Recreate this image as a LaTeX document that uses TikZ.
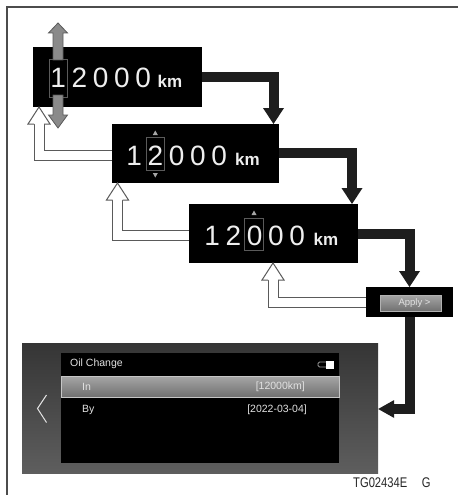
\documentclass[tikz,border=0pt]{standalone}
\usepackage{fontspec}
\setmainfont{Liberation Sans}
\usetikzlibrary{calc}
\definecolor{blk}{HTML}{1E1E1E}
\definecolor{digitc}{HTML}{EEEEEE}
\definecolor{framec}{HTML}{5A5A5A}
\definecolor{hollowc}{HTML}{5A5A5A}
\definecolor{updown}{HTML}{8A8A8A}
\definecolor{scrtop}{HTML}{353535}
\definecolor{scrbot}{HTML}{5E5E5E}
\definecolor{rowtop}{HTML}{A6A6A6}
\definecolor{rowbot}{HTML}{707070}
\definecolor{uitext}{HTML}{E2E2E2}
\newcommand\dg[1]{\makebox[21.25pt]{#1}}
\newcommand\hollowup[2]{%
  \draw[hollowout] #1 -| ($#2+(0,17)$);
  \draw[hollowin] #1 -| ($#2+(0,17)$);
  \fill[white] #2 -- ++(-11,17) -- ++(22,0) -- cycle;
  \draw[hollowedge] ($#2+(-5,17)$) -- ++(-6,0) -- #2 -- ++(11,17) -- ++(-6,0);}
\begin{document}
\begin{tikzpicture}[x=1pt,y=-1pt,
  scrbox/.style={fill=black, draw=none, inner sep=0, outer sep=0},
  digits/.style={text=digitc, font=\fontsize{28}{28}\selectfont, inner sep=0, anchor=base west},
  kmtxt/.style={text=digitc, font=\bfseries\fontsize{17}{17}\selectfont, inner sep=0, anchor=base},
  selframe/.style={draw=framec, line width=1pt, inner sep=0, fill=none},
  blkline/.style={draw=blk, line width=10pt, line join=miter},
  blkhead/.style={fill=blk},
  hollowout/.style={draw=hollowc, line width=11pt, line join=miter},
  hollowin/.style={draw=white, line width=9pt, line join=miter},
  hollowedge/.style={draw=hollowc, line width=1pt, line join=miter},
  graya/.style={fill=updown, draw=framec, line width=0.8pt, line join=miter},
  tri/.style={fill=gray!70},
  uilabel/.style={text=uitext, font=\fontsize{10.5}{11}\selectfont, inner sep=0},
  frameline/.style={draw=black!70, line width=1.1pt}]
\useasboundingbox (0,0) rectangle (458,495);
\fill[white] (0,0) rectangle (458,495);
\draw[frameline] (7,495) -- (7,7) -- (458,7);

% boxes
\node[scrbox, minimum width=169pt, minimum height=60pt] (b1) at (117.5,77) {};
\node[scrbox, minimum width=167pt, minimum height=59pt] (b2) at (195.5,153.5) {};
\node[scrbox, minimum width=169pt, minimum height=59pt] (b3) at (273.5,233.5) {};
\node[scrbox, minimum width=87pt, minimum height=30pt] (ap) at (409.5,302) {};
\node[inner sep=0, minimum width=356pt, minimum height=130pt, top color=scrtop, bottom color=scrbot] (scr) at (200,408) {};
\node[scrbox, minimum width=278pt, minimum height=110pt] (pnl) at (200,408) {};

% digits box 1
\node[selframe, minimum width=18pt, minimum height=37pt] (f1) at (58,78.5) {};
\node[digits] (d1) at (47.4,88) {\dg{1}\dg{2}\dg{0}\dg{0}\dg{0}};
\node[kmtxt] (k1) at (170,88) {km};
\draw[graya] (53,60) -- (53,33) -- (48.5,33) -- (58,23) -- (67.5,33) -- (63,33) -- (63,60) -- cycle;
\draw[graya] (53,95) -- (53,115) -- (48.5,115) -- (58,128) -- (67.5,115) -- (63,115) -- (63,95) -- cycle;

% digits box 2
\node[selframe, minimum width=18pt, minimum height=33pt] (f2) at (155.3,153.5) {};
\node[digits] (d2) at (123.4,165) {\dg{1}\dg{2}\dg{0}\dg{0}\dg{0}};
\node[kmtxt] (k2) at (247.5,165) {km};
\fill[tri] (152.8,135) -- (155.3,130.5) -- (157.8,135) -- cycle;
\fill[tri] (152.8,173) -- (155.3,177.5) -- (157.8,173) -- cycle;

% digits box 3
\node[selframe, minimum width=19pt, minimum height=32pt] (f3) at (254,234) {};
\node[digits] (d3) at (201.4,245) {\dg{1}\dg{2}\dg{0}\dg{0}\dg{0}};
\node[kmtxt] (k3) at (326,245) {km};
\fill[tri] (251.5,215) -- (254,210.5) -- (256.5,215) -- cycle;

% apply button
\node[inner sep=0, minimum width=61pt, minimum height=16pt, top color=rowtop, bottom color=rowbot, draw=gray!60, line width=0.6pt,
  text=uitext, font=\fontsize{9.5}{9.5}\selectfont] (btn) at (410.5,303) {\hspace*{8pt}Apply >};

% black flow arrows
\draw[blkline] (b1.east |- 0,77) -| ($(b2.north -| 273.5,0)+(0,-15)$);
\fill[blkhead] (b2.north -| 273.5,0) -- ++(-10.5,-16) -- ++(21,0) -- cycle;
\draw[blkline] (b2.east |- 0,153) -| ($(b3.north -| 352,0)+(0,-15)$);
\fill[blkhead] (b3.north -| 352,0) -- ++(-10.5,-16) -- ++(21,0) -- cycle;
\draw[blkline] (b3.east |- 0,234) -| ($(ap.north -| 409.5,0)+(0,-15)$);
\fill[blkhead] (ap.north -| 409.5,0) -- ++(-10.5,-16) -- ++(21,0) -- cycle;
\draw[blkline] (ap.south -| 410,0) |- ($(scr.east |- 0,409)+(15,0)$);
\fill[blkhead] (scr.east |- 0,409) -- ++(16,-9) -- ++(0,18) -- cycle;

% hollow return arrows
\coordinate (s1) at (b2.west |- 0,155);
\coordinate (t1) at (b1.south -| 39,0);
\hollowup{(s1)}{(t1)}
\coordinate (s2) at (b3.west |- 0,235.5);
\coordinate (t2) at (b2.south -| 117.5,0);
\hollowup{(s2)}{(t2)}
\coordinate (s3) at (ap.west |- 0,302.5);
\coordinate (t3) at (b3.south -| 273,0);
\hollowup{(s3)}{(t3)}

% screen content
\node[uilabel, anchor=west] (oil) at (70,364) {Oil Change};
\draw[gray!80, line width=0.8pt, rounded corners=1.5pt] (318,362) rectangle (329,367);
\fill[white] (326,360.5) rectangle (333.5,368.5);
\node[inner sep=0, minimum width=278pt, minimum height=21pt, top color=rowtop, bottom color=rowbot, draw=gray!45, line width=0.6pt] (row) at (200,386.5) {};
\node[uilabel, anchor=west] (inl) at (82,387) {In};
\node[uilabel, anchor=east] (inv) at (305,387) {[12000km]};
\node[uilabel, anchor=west] (byl) at (82,410) {By};
\node[uilabel, anchor=east] (byv) at (307,410) {[2022-03-04]};
\draw[uitext, line width=1pt] (46.5,395) .. controls (42,402) .. (37.5,408.5) .. controls (42,415) .. (46.5,422.5);

% figure code
\node[inner sep=0, anchor=base west, text=black!85] (code) at (353,487) {\scalebox{0.8}[1]{\fontsize{14}{14}\selectfont TG02434E\hspace{1.3em}G}};
\end{tikzpicture}
\end{document}
